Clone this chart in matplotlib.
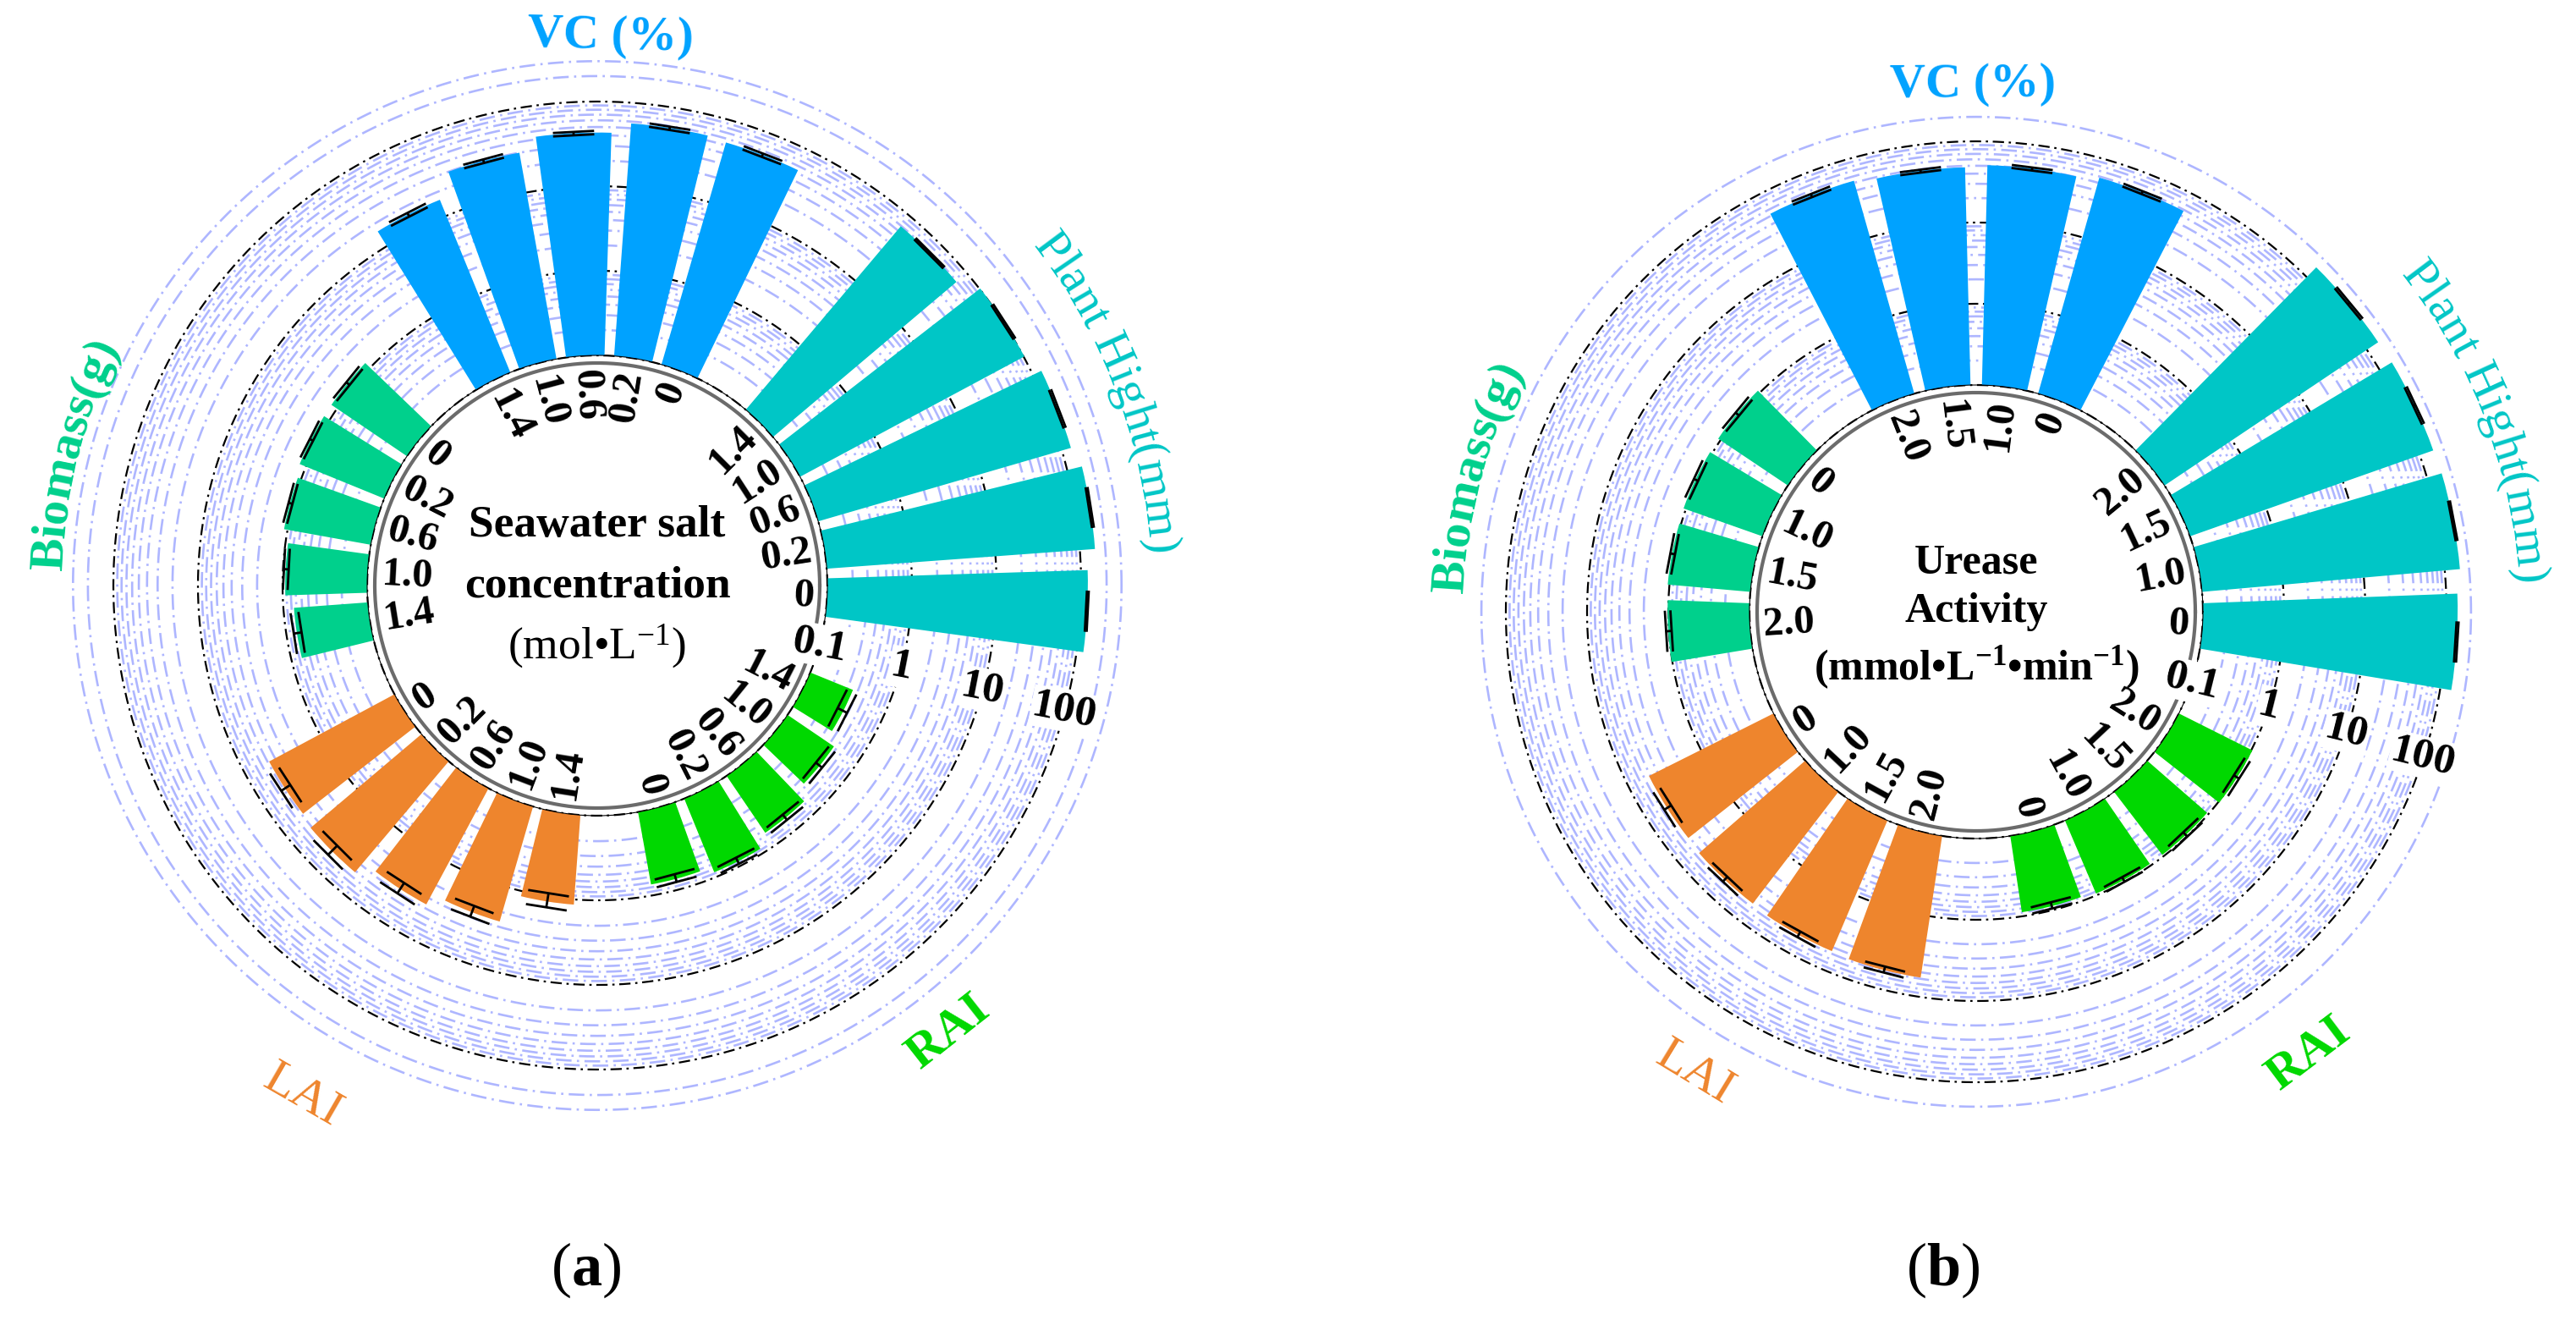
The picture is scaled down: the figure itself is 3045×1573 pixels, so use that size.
import numpy as np
import matplotlib.pyplot as plt
from matplotlib.font_manager import FontProperties
from matplotlib.ticker import NullLocator

plt.rcParams.update(
    {
        "font.family": ["Liberation Serif", "DejaVu Serif"],
        "mathtext.fontset": "custom",
        "mathtext.rm": "Liberation Serif",
        "mathtext.bf": "Liberation Serif:bold",
        "mathtext.it": "Liberation Serif:italic",
    }
)

W_PX, H_PX, DPI = 3045, 1573, 100

# groups, counter-clockwise from 3 o'clock
group_names = ["Plant Hight(mm)", "VC (%)", "Biomass(g)", "LAI", "RAI"]
group_colors = ["#00c6c6", "#00a2ff", "#00d08c", "#ee852d", "#00d800"]
group_weights = ["normal", "bold", "bold", "normal", "bold"]

radial_ticks = [0.1, 1, 10, 100]
radial_labels = ["0.1", "1", "10", "100"]

# (a) seawater salt concentration
salt_levels = ["0", "0.2", "0.6", "1.0", "1.4"]
salt_plant = [120, 151, 129, 102, 69]
salt_plant_err = [3, 4, 4, 3, 2]
salt_vc = [54, 57, 43, 30, 16]
salt_vc_err = [2.6, 2.6, 2.0, 1.5, 0.9]
salt_biomass = [1.2, 1.2, 1.1, 0.93, 0.75]
salt_biomass_err = [0.07, 0.06, 0.06, 0.06, 0.08]
salt_lai = [4.8, 5.2, 3.6, 2.6, 1.15]
salt_lai_err = [0.7, 0.9, 0.6, 0.4, 0.22]
salt_rai = [0.74, 0.87, 0.65, 0.46, 0.35]
salt_rai_err = [0.08, 0.08, 0.06, 0.05, 0.05]

# (b) urease activity
urease_levels = ["0", "1.0", "1.5", "2.0"]
urease_plant = [137, 154, 150, 147]
urease_plant_err = [4, 4, 5, 5]
urease_vc = [58, 51, 48, 53]
urease_vc_err = [2.5, 2.2, 2.0, 2.5]
urease_biomass = [1.08, 1.07, 1.05, 1.02]
urease_biomass_err = [0.07, 0.07, 0.07, 0.08]
urease_lai = [5.2, 5.4, 5.6, 5.8]
urease_lai_err = [0.6, 0.5, 0.5, 0.5]
urease_rai = [0.89, 0.95, 0.95, 1.03]
urease_rai_err = [0.08, 0.07, 0.08, 0.09]

LIGHT = "#aeb6ff"
LABEL_PT = 42
TICK_PT = 35
RTICK_PT = 37


def draw_panel(fig, centre, r01_px, decade_px, rmax, levels, values, errors,
               centre_lines, centre_pt, label_pos, caption):
    cx, cy = centre
    log_origin = -1 - r01_px / decade_px

    def to_r(px):
        return 10 ** (log_origin + px / decade_px)

    def to_px(r):
        return (np.log10(r) - log_origin) * decade_px

    R = to_px(rmax)
    ax = fig.add_axes([(cx - R) / W_PX, (H_PX - cy - R) / H_PX, 2 * R / W_PX, 2 * R / H_PX],
                      projection="polar")
    ax.set_rscale("log")
    ax.set_rlim(0.1, rmax)
    ax.set_rorigin(10 ** log_origin)
    ax.grid(False)
    for axis in (ax.xaxis, ax.yaxis):
        axis.set_major_locator(NullLocator())
        axis.set_minor_locator(NullLocator())
    for sp in ax.spines.values():
        sp.set_visible(False)
    ax.set_facecolor("none")

    # circular grid
    ring = np.linspace(0, 2 * np.pi, 1441)
    for dec in radial_ticks:
        for k in range(2, 10):
            v = dec * k
            if v <= rmax * 1.001:
                ax.plot(ring, np.full_like(ring, v), color=LIGHT, lw=1.9,
                        ls=(0, (7, 2.4, 1, 2.4)), zorder=1, clip_on=False)
        ax.plot(ring, np.full_like(ring, dec), color="black", lw=1.6,
                ls=(0, (6, 2.5, 1.2, 2.5)), zorder=1.2, clip_on=False)
    ax.plot(ring, np.full_like(ring, to_r(r01_px - 9)), color="#6b6b6b", lw=3,
            zorder=3, clip_on=False)

    n = len(levels)
    slot = 360.0 / (len(group_names) * (n + 1))
    start = -slot / 4
    label_r = to_r(r01_px - 16)
    for g, (vals, errs) in enumerate(zip(values, errors)):
        theta_deg = np.array([start + (g * (n + 1) + k) * slot for k in range(n)])
        theta = np.radians(theta_deg)
        ax.bar(theta, np.array(vals) - 0.1, width=np.radians(slot) * 0.8, bottom=0.1,
               color=group_colors[g], zorder=2)
        for th, v, e in zip(theta, vals, errs):
            ax.plot([th, th], [v - e, v + e], color="black", lw=2, zorder=4, solid_capstyle="butt")
            for rv in (v - e, v + e):
                dth = 23 / to_px(rv)
                ax.plot([th - dth, th + dth], [rv, rv], color="black", lw=2, zorder=4)
        for th, lab in zip(theta_deg, levels):
            a = (th + 90) % 360 - 90
            if a <= 90:
                rot, ha = a, "right"
            else:
                rot, ha = a - 180, "left"
            ax.text(np.radians(th), label_r, lab, rotation=rot, rotation_mode="anchor",
                    ha=ha, va="center", fontsize=TICK_PT, fontweight="bold", zorder=5)

    # radial axis labels in the gap before the first group
    gap = start - slot
    for v, lab in zip(radial_ticks, radial_labels):
        ax.text(np.radians(gap), v, lab, rotation=gap + 4, rotation_mode="anchor",
                ha="center", va="center", fontsize=RTICK_PT, fontweight="bold", zorder=5,
                bbox=dict(facecolor="white", edgecolor="none", pad=1))

    # centre title
    for dy, s, wt in centre_lines:
        ax.text(0.5, 0.5 - dy / (2 * R), s, transform=ax.transAxes, ha="center", va="center",
                fontsize=centre_pt, fontweight=wt, zorder=5)

    # group labels on the outside
    renderer = fig.canvas.get_renderer()
    em = LABEL_PT * DPI / 72
    for g, name in enumerate(group_names):
        phi, r_mid, curved, clockwise = label_pos[g]
        prop = FontProperties(family="Liberation Serif", size=LABEL_PT, weight=group_weights[g])
        if not curved:
            rot = phi - 90 if clockwise else phi + 90
            ax.text(np.radians(phi), to_r(r_mid), name, rotation=rot, rotation_mode="anchor",
                    ha="center", va="center", fontproperties=prop, color=group_colors[g])
            continue

        def width(s):
            return renderer.get_text_width_height_descent(s, prop, ismath=False)[0]

        total = width(name)
        r_base = r_mid - 0.33 * em if clockwise else r_mid + 0.33 * em
        sign = -1 if clockwise else 1
        for i, ch in enumerate(name):
            if ch == " ":
                continue
            c = width(name[: i + 1]) - width(ch) / 2 - total / 2
            ph = phi + sign * np.degrees(c / r_base)
            rot = ph - 90 if clockwise else ph + 90
            ax.text(np.radians(ph), to_r(r_base), ch, rotation=rot, rotation_mode="anchor",
                    ha="center", va="baseline", fontproperties=prop, color=group_colors[g])

    fig.text(caption[1] / W_PX, 1 - caption[2] / H_PX, caption[0], ha="center", va="center",
             fontsize=52)
    return ax


fig = plt.figure(figsize=(W_PX / DPI, H_PX / DPI), dpi=DPI)

draw_panel(
    fig, (706, 692), 272, 100, 300, salt_levels,
    [salt_plant, salt_vc, salt_biomass, salt_lai, salt_rai],
    [salt_plant_err, salt_vc_err, salt_biomass_err, salt_lai_err, salt_rai_err],
    [(-71, "Seawater salt", "bold"), (0, "concentration", "bold"),
     (72, r"(mol•L$^{-1}$)", "normal")],
    38.5,
    [(20.6, 672, True, True), (88.6, 649, False, True), (166, 652, True, True),
     (240, 697, False, False), (-51.8, 672, False, False)],
    (r"($\mathbf{a}$)", 693, 1501),
)

draw_panel(
    fig, (2336, 723), 268, 96, 200, urease_levels,
    [urease_plant, urease_vc, urease_biomass, urease_lai, urease_rai],
    [urease_plant_err, urease_vc_err, urease_biomass_err, urease_lai_err, urease_rai_err],
    [(-58, "Urease", "bold"), (0, "Activity", "bold"),
     (66, r"(mmol•L$^{\mathbf{-1}}$•min$^{\mathbf{-1}}$)", "bold")],
    36,
    [(20.7, 660, True, True), (90.4, 623, False, True), (165, 626, True, True),
     (238.6, 639, False, False), (-53, 654, False, False)],
    (r"($\mathbf{b}$)", 2297, 1501),
)

fig.savefig("out.png", dpi=DPI, facecolor="white")
